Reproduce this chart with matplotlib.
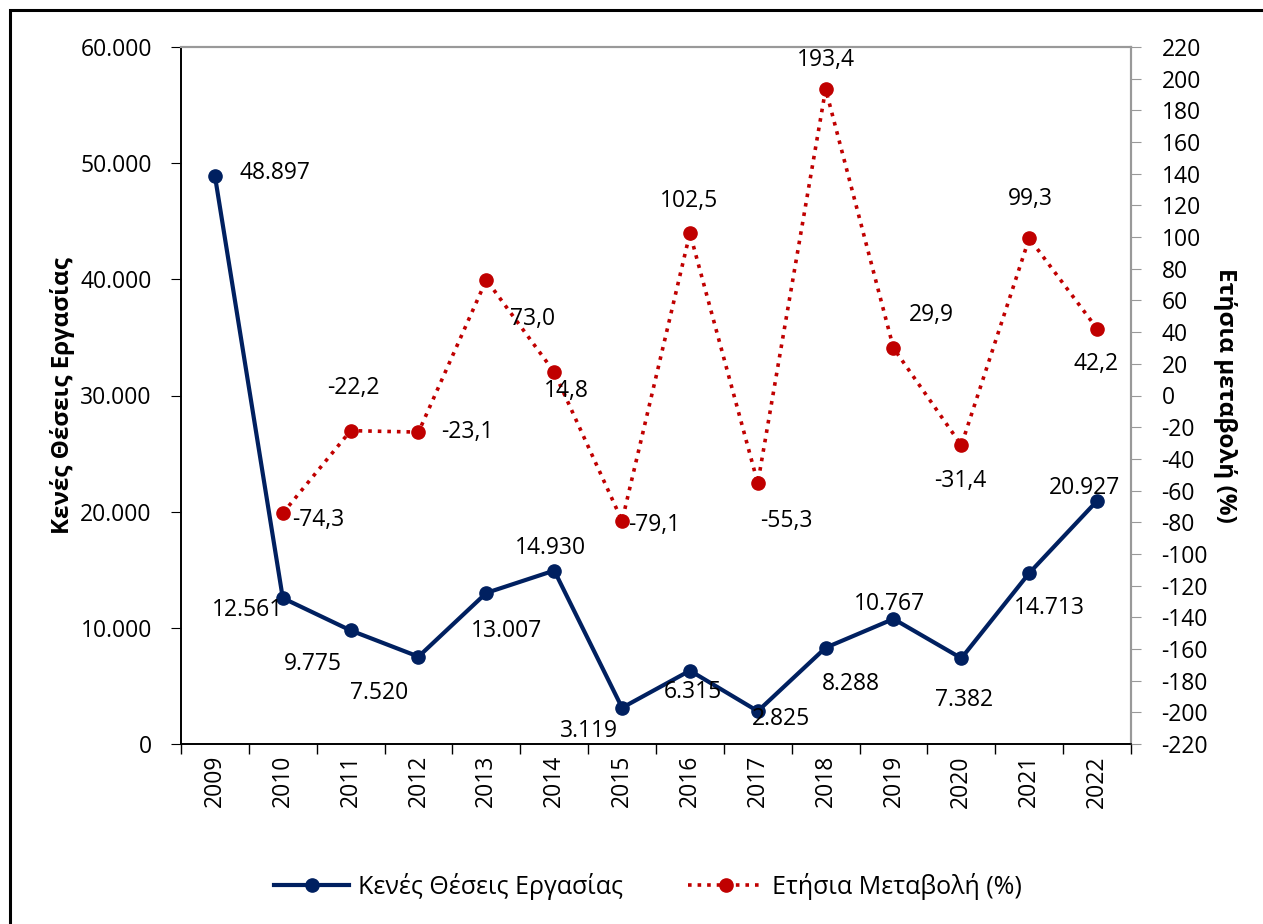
import numpy as np
import matplotlib.pyplot as plt
from matplotlib.ticker import FuncFormatter
from matplotlib.lines import Line2D
from matplotlib.patches import Rectangle

plt.rcParams['font.family'] = ['Open Sans', 'DejaVu Sans']
plt.rcParams['axes.unicode_minus'] = False

# Δεδομένα
years = ['2009', '2010', '2011', '2012', '2013', '2014', '2015',
         '2016', '2017', '2018', '2019', '2020', '2021', '2022']
vacancies = [48897, 12561, 9775, 7520, 13007, 14930, 3119,
             6315, 2825, 8288, 10767, 7382, 14713, 20927]
change = [np.nan, -74.3, -22.2, -23.1, 73.0, 14.8, -79.1,
          102.5, -55.3, 193.4, 29.9, -31.4, 99.3, 42.2]

# offsets των ετικετών (pixels)
vac_off = [(60, 3), (-35, -12), (-38, -34), (-39, -36), (20, -38), (-4, 23), (-33, -23),
           (3, -21), (23, -8), (25, -36), (-4, 15), (3, -42), (20, -35), (-13, 13)]
chg_off = [None, (35, -7), (3, 43), (49, 0), (46, -39), (12, -19), (32, -4),
           (-1, 32), (29, -38), (0, 29), (38, 33), (-1, -36), (1, 39), (-1, -35)]

navy = '#002060'
red = '#C00000'
fs = 16.5

fig = plt.figure(figsize=(12.63, 9.24), dpi=100)
ax = fig.add_axes([181/1263, 1-744/924, 950/1263, 697/924])
ax2 = ax.twinx()

x = np.arange(len(years))
ax.plot(x, vacancies, '-o', color=navy, lw=3, ms=9.5, zorder=3)
ax2.plot(x, change, ':o', color=red, lw=2.6, ms=9.5, zorder=3)

for i, v in enumerate(vacancies):
    ax.annotate(f'{v:,}'.replace(',', '.'), (x[i], v), xytext=vac_off[i],
                textcoords='offset pixels', ha='center', va='center', fontsize=fs)
for i, c in enumerate(change):
    if chg_off[i] is None:
        continue
    ax2.annotate(f'{c:.1f}'.replace('.', ','), (x[i], c), xytext=chg_off[i],
                 textcoords='offset pixels', ha='center', va='center', fontsize=fs)

ax.set_xlim(-0.5, len(years) - 0.5)
ax.set_ylim(0, 60000)
ax.set_yticks(np.arange(0, 60001, 10000))
ax.yaxis.set_major_formatter(FuncFormatter(lambda v, p: f'{int(v):,}'.replace(',', '.')))
ax.set_xticks(np.arange(-0.5, len(years), 1), minor=False)
ax.set_xticklabels([])
ax.set_xticks(x, minor=True)
ax.set_xticklabels(years, minor=True, rotation=90, fontsize=fs)
ax.tick_params(axis='x', which='minor', length=0, pad=8)
ax.tick_params(axis='x', which='major', direction='out', length=7, width=1)
ax.tick_params(axis='y', direction='out', length=7, labelsize=fs, pad=14)

ax2.set_ylim(-220, 220)
ax2.set_yticks(np.arange(-220, 221, 20))
ax2.tick_params(axis='y', direction='out', length=7, labelsize=fs, color='#999999', pad=15)

for a in (ax, ax2):
    a.spines['top'].set_color('#999999')
    a.spines['top'].set_linewidth(1.5)
    a.spines['right'].set_color('#999999')
    a.spines['right'].set_linewidth(1.5)
    a.spines['left'].set_linewidth(1.2)
    a.spines['bottom'].set_linewidth(1.2)

ax.set_ylabel('Κενές Θέσεις Εργασίας', fontsize=17.5, fontweight='bold', labelpad=4)
ax2.set_ylabel('Ετήσια μεταβολή (%)', fontsize=17.5, fontweight='bold', rotation=270, labelpad=21)

handles = [Line2D([], [], color=navy, lw=3, marker='o', ms=9.5),
           Line2D([], [], color=red, lw=2.6, ls=':', marker='o', ms=9.5)]
fig.legend(handles, ['Κενές Θέσεις Εργασίας', 'Ετήσια Μεταβολή (%)'], loc='center',
           bbox_to_anchor=(648/1263, 1-886/924), ncol=2, frameon=False, fontsize=18,
           handlelength=3, columnspacing=2.6, handletextpad=0.36)

fig.patches.append(Rectangle((10/1263, -0.1), 1.2, 1-10/924+0.1, transform=fig.transFigure,
                             fill=False, edgecolor='black', lw=2.2))

fig.savefig('out.png', dpi=100)
